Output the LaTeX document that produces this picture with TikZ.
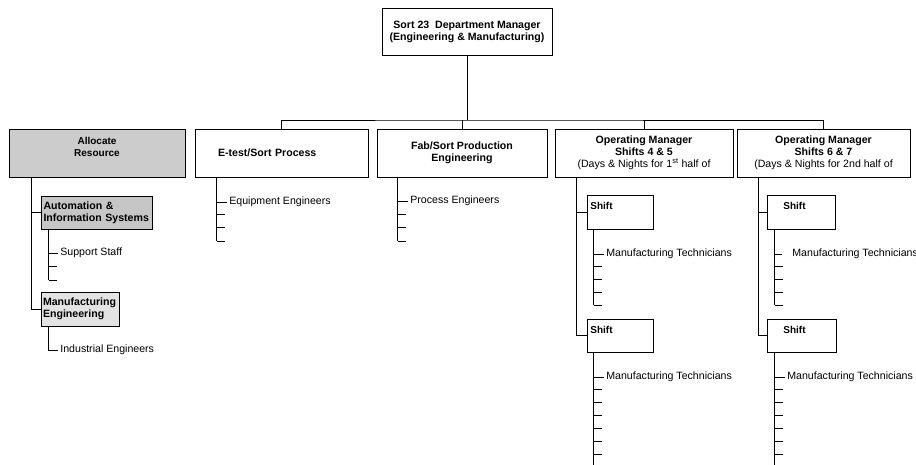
\documentclass[tikz,border=0pt]{standalone}
\usepackage{fontspec}
\setmainfont{Liberation Sans}
\usetikzlibrary{positioning}
\tikzset{
  orgbox/.style={draw, line width=0.9pt, inner sep=2pt, align=center,
                 font=\bfseries\fontsize{10.6}{12}\selectfont},
  item/.style={anchor=west, inner sep=2pt},
  shiftlbl/.style={anchor=north west, inner sep=0pt, font=\bfseries}
}

\begin{document}
\begin{tikzpicture}[x=1pt, y=-1pt, line width=0.75pt,
                    font=\fontsize{10.6}{12}\selectfont]
      \useasboundingbox (0,0) rectangle (916,465);
      % Department manager
      \node[orgbox, minimum width=170pt, minimum height=47pt] (mgr) at (467,31.5)
        {Sort 23\ \ Department Manager\\(Engineering \& Manufacturing)};
      % Second level
      \node[orgbox, minimum width=176pt, minimum height=48pt, fill=gray!40] (alloc) at (97,153) {};
      \node[font=\bfseries, align=center, inner sep=0pt] (allocT) at (97,147) {Allocate\\Resource};
      \node[orgbox, minimum width=173pt, minimum height=48pt, text width=127pt,
            align=left] (etest) at (281.5,153)
        {E-test/Sort Process};
      \node[orgbox, minimum width=170pt, minimum height=48pt] (fab) at (462,153)
        {Fab/Sort Production\\Engineering};
      \node[orgbox, minimum width=178pt, minimum height=48pt] (opA) at (644,153)
        {Operating Manager\\Shifts 4 \& 5\\\mdseries(Days \& Nights for 1\textsuperscript{st} half of};
      \node[orgbox, minimum width=173pt, minimum height=48pt] (opB) at (823.5,153)
        {Operating Manager\\Shifts 6 \& 7\\\mdseries(Days \& Nights for 2nd half of};
      % Bus
      \coordinate (bus) at (467,120);
      \draw (mgr.south) -- (bus);
      \draw (etest.north) |- (bus) -| (opB.north);
      \draw (fab.north) -- (fab.north |- bus);
      \draw (opA.north) -- (opA.north |- bus);
      % Allocate resource
      \node[orgbox, minimum width=111pt, minimum height=33pt, text width=106pt,
            align=left, fill=gray!45] (auto) at (96.5,212.5)
        {Automation \&\\Information Systems};
      \node[orgbox, minimum width=78pt, minimum height=34pt, text width=74pt,
            align=left, fill=gray!22] (mfg) at (80,309)
        {Manufacturing\\Engineering};
      \draw ([xshift=23pt]alloc.south west) |- (mfg.west);
      \draw (auto.west) -- ++(-9,0);
      \coordinate (au) at ([xshift=8pt]auto.south west);
      \draw (au) -- ++(0,51);
      \node[item] (staff) at (58,253) {Support Staff};
      \draw (staff.west -| au) -- (staff.west);
      \foreach \y in {37,51} \draw (au) ++(0,\y) -- ++(8,0);
      \node[item] (indeng) at (58,350) {Industrial Engineers};
      \draw ([xshift=8pt]mfg.south west) |- (indeng.west);
      % E-test/Sort
      \coordinate (et) at ([xshift=22pt]etest.south west);
      \draw (et) -- ++(0,64);
      \node[item] (equip) at (227,202) {Equipment Engineers};
      \draw (equip.west -| et) -- (equip.west);
      \foreach \y in {37,50,64} \draw (et) ++(0,\y) -- ++(8,0);
      % Fab/Sort
      \coordinate (fb) at ([xshift=21pt]fab.south west);
      \draw (fb) -- ++(0,64);
      \node[item] (proc) at (408,201) {Process Engineers};
      \draw (proc.west -| fb) -- (proc.west);
      \foreach \y in {37,50,64} \draw (fb) ++(0,\y) -- ++(8,0);
      % Operating manager, shifts 4 & 5
      \node[orgbox, minimum width=66pt, minimum height=34pt] (sA1) at (620,212) {};
      \node[shiftlbl] (sA1t) at (590,202) {Shift};
      \node[orgbox, minimum width=66pt, minimum height=33pt] (sA2) at (620,335.5) {};
      \node[shiftlbl] (sA2t) at (590,326) {Shift};
      \draw ([xshift=22pt]opA.south west) |- (sA2.west);
      \draw (sA1.west) -- ++(-10,0);
      \coordinate (a1) at ([xshift=7pt]sA1.south west);
      \draw (a1) -- ++(0,76);
      \node[item] (techA1) at (604,254) {Manufacturing Technicians};
      \draw (techA1.west -| a1) -- (techA1.west);
      \foreach \y in {37,50,63,76} \draw (a1) ++(0,\y) -- ++(8,0);
      \coordinate (a2) at ([xshift=7pt]sA2.south west);
      \draw (a2) -- ++(0,114);
      \node[item] (techA2) at (604,377) {Manufacturing Technicians};
      \draw (techA2.west -| a2) -- (techA2.west);
      \foreach \y in {37,50,63,76,89,102} \draw (a2) ++(0,\y) -- ++(8,0);
      % Operating manager, shifts 6 & 7
      \node[orgbox, minimum width=68pt, minimum height=34pt] (sB1) at (801,212) {};
      \node[shiftlbl] (sB1t) at (783,202) {Shift};
      \node[orgbox, minimum width=69pt, minimum height=33pt] (sB2) at (801.5,335.5) {};
      \node[shiftlbl] (sB2t) at (783,326) {Shift};
      \draw ([xshift=22pt]opB.south west) |- (sB2.west);
      \draw (sB1.west) -- ++(-8,0);
      \coordinate (b1) at ([xshift=8pt]sB1.south west);
      \draw (b1) -- ++(0,76);
      \node[item] (techB1) at (790,254) {Manufacturing Technicians};
      \draw[shorten >=8pt] (techB1.west -| b1) -- (techB1.west);
      \foreach \y in {37,50,63,76} \draw (b1) ++(0,\y) -- ++(8,0);
      \coordinate (b2) at ([xshift=8pt]sB2.south west);
      \draw (b2) -- ++(0,114);
      \node[item] (techB2) at (785,377) {Manufacturing Technicians};
      \draw (techB2.west -| b2) -- (techB2.west);
      \foreach \y in {37,50,63,76,89,102} \draw (b2) ++(0,\y) -- ++(8,0);
\end{tikzpicture}
\end{document}
